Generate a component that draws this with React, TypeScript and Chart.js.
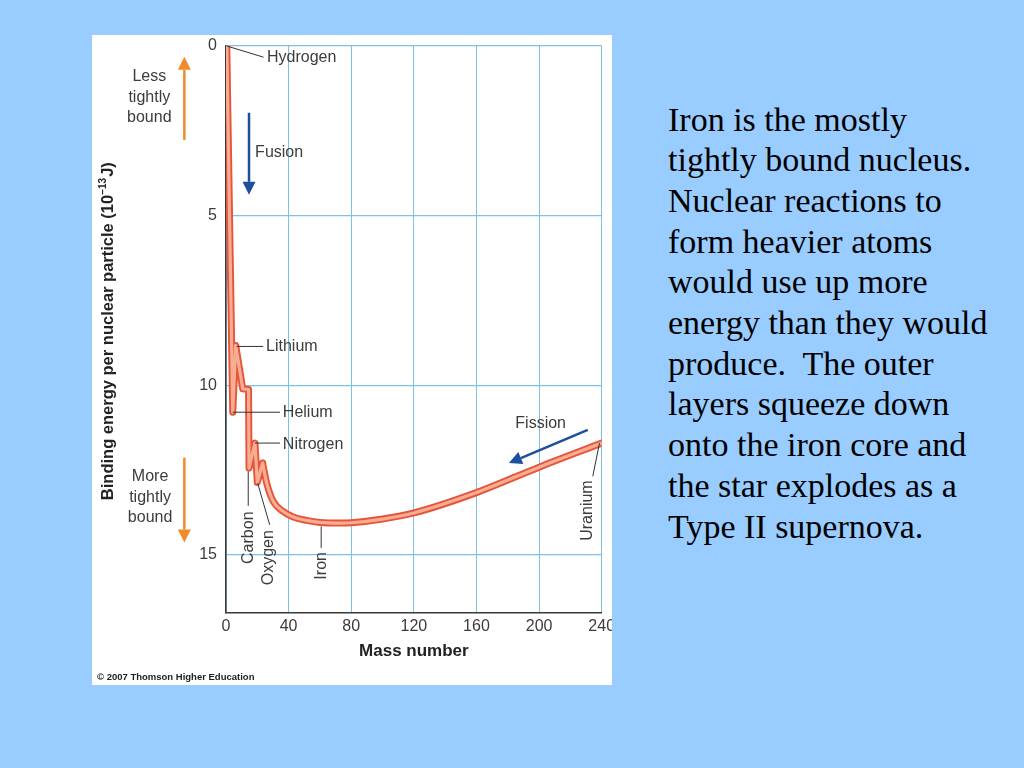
import React, { useEffect, useRef } from "react";
import { Chart, registerables } from "chart.js";

Chart.register(...registerables);

// ---- Data ----
// Light-nuclei part of the curve (jagged, straight segments)
const massLight = [0.5, 4.3, 6.2, 10.7, 14.4, 14.7, 18.5, 20.0, 23.4];
const energyLight = [0, 10.8, 8.83, 10.11, 10.13, 12.45, 11.71, 12.87, 12.3];
// Heavier nuclei (smooth part of the curve)
const massHeavy = [23.4, 26.0, 30.2, 36.6, 42.9, 51.5, 60.0, 72.7, 80, 100, 120, 160, 200, 240];
const energyHeavy = [12.3, 12.89, 13.43, 13.73, 13.89, 13.99, 14.05, 14.07, 14.06, 13.95, 13.77, 13.17, 12.42, 11.71];

const xTicks = [0, 40, 80, 120, 160, 200, 240];
const yTicks = [0, 5, 10, 15];
const xMax = 240;
const yMax = 16.7;

const xTitle = "Mass number";
const yTitleMain = "Binding energy per nuclear particle (10";
const yTitleSup = "\u221213";
const yTitleEnd = "J)";
const copyright = "\u00A9 2007 Thomson Higher Education";

const bodyLines = [
  "Iron is the mostly",
  "tightly bound nucleus.",
  "Nuclear reactions to",
  "form heavier atoms",
  "would use up more",
  "energy than they would",
  "produce.  The outer",
  "layers squeeze down",
  "onto the iron core and",
  "the star explodes as a",
  "Type II supernova.",
];

// Annotations in data units (mass, energy)
const hLabels = [
  { text: "Hydrogen", from: [0.5, 0], to: [24.0, 0.33], at: [26.2, 0.34] },
  { text: "Lithium", from: [6.8, 8.86], to: [23.8, 8.86], at: [25.6, 8.86] },
  { text: "Helium", from: [4.3, 10.8], to: [34.5, 10.8], at: [36.3, 10.8] },
  { text: "Nitrogen", from: [18.5, 11.71], to: [34.5, 11.71], at: [36.3, 11.74] },
];
const vLabels = [
  { text: "Carbon", from: [14.2, 12.55], to: [14.2, 13.56], at: [14.4, 14.5] },
  { text: "Oxygen", from: [20.2, 12.89], to: [27.9, 14.12], at: [27.3, 15.09] },
  { text: "Iron", from: [60.8, 14.17], to: [60.8, 14.8], at: [60.8, 15.33] },
  { text: "Uranium", from: [238.6, 11.71], to: [234.3, 12.69], at: [231.1, 13.7] },
];
const freeTexts = [
  { text: "Fusion", at: [18.6, 3.15], align: "left" },
  { text: "Fission", at: [201, 11.14], align: "center" },
  { text: "Less", at: [-49, 0.9], align: "center" },
  { text: "tightly", at: [-49, 1.52], align: "center" },
  { text: "bound", at: [-49, 2.1], align: "center" },
  { text: "More", at: [-48.5, 12.69], align: "center" },
  { text: "tightly", at: [-48.5, 13.31], align: "center" },
  { text: "bound", at: [-48.5, 13.9], align: "center" },
];
const arrows = [
  { from: [14.7, 1.97], to: [14.7, 4.39], color: "#1d4f9c" },
  { from: [231.1, 11.32], to: [180.7, 12.3], color: "#1d4f9c" },
  { from: [-26.6, 2.77], to: [-26.6, 0.32], color: "#f08a2c" },
  { from: [-26.6, 12.14], to: [-26.6, 14.64], color: "#f08a2c" },
];

const FONT = '"Liberation Sans", Arial, Helvetica, sans-serif';
const TEXT_COLOR = "#3c3c3c";
const GRID_COLOR = "#7fc0e8";

function drawArrow(ctx: CanvasRenderingContext2D, x1: number, y1: number, x2: number, y2: number, color: string) {
  const headLen = 13;
  const headW = 13;
  const ang = Math.atan2(y2 - y1, x2 - x1);
  const bx = x2 - headLen * Math.cos(ang);
  const by = y2 - headLen * Math.sin(ang);
  ctx.strokeStyle = color;
  ctx.lineWidth = 2.5;
  ctx.beginPath();
  ctx.moveTo(x1, y1);
  ctx.lineTo(bx, by);
  ctx.stroke();
  ctx.fillStyle = color;
  ctx.beginPath();
  ctx.moveTo(x2, y2);
  ctx.lineTo(bx + (headW / 2) * Math.sin(ang), by - (headW / 2) * Math.cos(ang));
  ctx.lineTo(bx - (headW / 2) * Math.sin(ang), by + (headW / 2) * Math.cos(ang));
  ctx.closePath();
  ctx.fill();
}

const annotationPlugin = {
  id: "annotations",
  afterDraw(chart: any) {
    const { ctx, scales, chartArea } = chart;
    const xs = scales.x;
    const ys = scales.y;
    const px = (m: number) => xs.getPixelForValue(m);
    const py = (e: number) => ys.getPixelForValue(e);
    ctx.save();

    // leader lines
    ctx.strokeStyle = "#333";
    ctx.lineWidth = 1;
    [...hLabels, ...vLabels].forEach((l) => {
      ctx.beginPath();
      ctx.moveTo(px(l.from[0]), py(l.from[1]));
      ctx.lineTo(px(l.to[0]), py(l.to[1]));
      ctx.stroke();
    });

    ctx.font = `16px ${FONT}`;
    ctx.fillStyle = TEXT_COLOR;
    ctx.textBaseline = "middle";
    hLabels.forEach((l) => {
      ctx.textAlign = "left";
      ctx.fillText(l.text, px(l.at[0]), py(l.at[1]));
    });
    vLabels.forEach((l) => {
      ctx.save();
      ctx.translate(px(l.at[0]), py(l.at[1]));
      ctx.rotate(-Math.PI / 2);
      ctx.textAlign = "center";
      ctx.fillText(l.text, 0, 0);
      ctx.restore();
    });
    freeTexts.forEach((t) => {
      ctx.textAlign = t.align as CanvasTextAlign;
      ctx.fillText(t.text, px(t.at[0]), py(t.at[1]));
    });

    arrows.forEach((a) => drawArrow(ctx, px(a.from[0]), py(a.from[1]), px(a.to[0]), py(a.to[1]), a.color));

    // y-axis title with superscript
    const cx = ys.left + 16;
    const cy = (chartArea.top + chartArea.bottom) / 2 + 2;
    const mainFont = `bold 16.5px ${FONT}`;
    const supFont = `bold 10px ${FONT}`;
    ctx.font = mainFont;
    const w1 = ctx.measureText(yTitleMain).width;
    const w3 = ctx.measureText(yTitleEnd).width;
    ctx.font = supFont;
    const w2 = ctx.measureText(yTitleSup).width;
    const total = w1 + w2 + w3 + 1;
    ctx.save();
    ctx.translate(cx, cy);
    ctx.rotate(-Math.PI / 2);
    ctx.fillStyle = "#222";
    ctx.textAlign = "left";
    ctx.textBaseline = "middle";
    let sx = -total / 2;
    ctx.font = mainFont;
    ctx.fillText(yTitleMain, sx, 0);
    sx += w1;
    ctx.font = supFont;
    ctx.fillText(yTitleSup, sx, -5);
    sx += w2 + 1;
    ctx.font = mainFont;
    ctx.fillText(yTitleEnd, sx, 0);
    ctx.restore();

    // copyright
    ctx.font = `bold 9.5px ${FONT}`;
    ctx.fillStyle = "#222";
    ctx.textAlign = "left";
    ctx.textBaseline = "middle";
    ctx.fillText(copyright, 5, chart.height - 8);

    ctx.restore();
  },
};

export default function App() {
  const canvasRef = useRef<HTMLCanvasElement | null>(null);

  useEffect(() => {
    if (!canvasRef.current) return;
    const light = massLight.map((m, i) => ({ x: m, y: energyLight[i] }));
    const heavy = massHeavy.map((m, i) => ({ x: m, y: energyHeavy[i] }));
    const outer = "#e5553a";
    const inner = "#f8ad92";
    const common = { pointRadius: 0, borderCapStyle: "round", borderJoinStyle: "round", fill: false };
    const chart = new Chart(canvasRef.current, {
      type: "line",
      data: {
        datasets: [
          { ...common, data: light, borderColor: outer, borderWidth: 7, tension: 0, order: 2 },
          { ...common, data: heavy, borderColor: outer, borderWidth: 7, cubicInterpolationMode: "monotone", order: 2 },
          { ...common, data: light, borderColor: inner, borderWidth: 3.2, tension: 0, order: 1 },
          { ...common, data: heavy, borderColor: inner, borderWidth: 3.2, cubicInterpolationMode: "monotone", order: 1 },
        ] as any,
      },
      options: {
        responsive: false,
        animation: false,
        events: [],
        layout: { padding: { left: 0, top: 11, right: 10.3, bottom: 0 } },
        plugins: { legend: { display: false }, tooltip: { enabled: false } },
        scales: {
          x: {
            type: "linear",
            min: 0,
            max: xMax,
            grid: { color: GRID_COLOR, lineWidth: 1, drawTicks: false },
            border: { color: "#3a3a3a", width: 1.5 },
            ticks: { padding: 5, color: TEXT_COLOR, font: { family: FONT, size: 16 } },
            title: {
              display: true,
              text: xTitle,
              color: "#222",
              font: { family: FONT, size: 17, weight: "bold" },
              padding: { top: 0, bottom: 23.8 },
            },
            afterBuildTicks: (s: any) => {
              s.ticks = xTicks.map((v) => ({ value: v }));
            },
            afterFit: (s: any) => {
              s.height = 72.7;
              s.paddingLeft = 0;
              s.paddingRight = 0;
            },
          },
          y: {
            type: "linear",
            reverse: true,
            min: 0,
            max: yMax,
            grid: { color: GRID_COLOR, lineWidth: 1.2, drawTicks: false },
            border: { color: "#3a3a3a", width: 1.5 },
            ticks: { padding: 9, color: TEXT_COLOR, font: { family: FONT, size: 16 } },
            afterBuildTicks: (s: any) => {
              s.ticks = yTicks.map((v) => ({ value: v }));
            },
            afterFit: (s: any) => {
              s.width = 134;
              s.paddingTop = 0;
              s.paddingBottom = 0;
            },
          },
        },
      } as any,
      plugins: [annotationPlugin],
    });
    return () => chart.destroy();
  }, []);

  return (
    <div style={{ position: "relative", width: 1024, height: 768, background: "#99ccff", overflow: "hidden" }}>
      <style>{`body{margin:0}`}</style>
      <div style={{ position: "absolute", left: 92, top: 35, width: 520, height: 650, background: "#ffffff" }}>
        <canvas ref={canvasRef} width={520} height={650} style={{ display: "block" }} />
      </div>
      <div
        style={{
          position: "absolute",
          left: 668,
          top: 99.5,
          fontFamily: '"Liberation Serif", "Times New Roman", serif',
          fontSize: 34,
          lineHeight: "40.7px",
          color: "#000",
          whiteSpace: "pre",
        }}
      >
        {bodyLines.map((l, i) => (
          <div key={i}>{l}</div>
        ))}
      </div>
    </div>
  );
}
